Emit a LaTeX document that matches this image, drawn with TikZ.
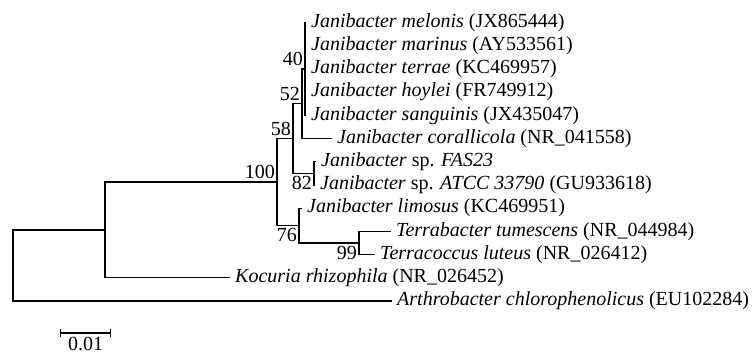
\documentclass[tikz,border=0pt]{standalone}
\usepackage{fontspec}
\setmainfont{Liberation Serif}
\usetikzlibrary{arrows.meta, positioning}

\begin{document}
\begin{tikzpicture}[x=1pt,y=-1pt,
    every node/.style={font=\fontsize{20}{24}\selectfont},
    leaf/.style={anchor=west,inner xsep=5pt,inner ysep=0pt},
    boot/.style={inner xsep=2pt,inner ysep=3pt},
    branch/.style={draw,line width=1.2pt}]
  \useasboundingbox (0,0) rectangle (755,354);

  % leaves
  \node[leaf] (melonis) at (306,22.5) {\textit{Janibacter melonis} (JX865444)};
  \node[leaf] (marinus) at (306,45.7) {\textit{Janibacter marinus} (AY533561)};
  \node[leaf] (terrae) at (306,68.9) {\textit{Janibacter terrae} (KC469957)};
  \node[leaf] (hoylei) at (306,92.1) {\textit{Janibacter hoylei} (FR749912)};
  \node[leaf] (sanguinis) at (306,115.3) {\textit{Janibacter sanguinis} (JX435047)};
  \node[leaf] (corallicola) at (332,138.5) {\textit{Janibacter corallicola} (NR\_041558)};
  \node[leaf] (fas) at (316,161.7) {\textit{Janibacter} sp. \textit{FAS23}};
  \node[leaf] (atcc) at (315,184.9) {\textit{Janibacter} sp. \textit{ATCC 33790} (GU933618)};
  \node[leaf] (limosus) at (302,208.1) {\textit{Janibacter limosus} (KC469951)};
  \node[leaf] (tumescens) at (391,231.3) {\textit{Terrabacter tumescens} (NR\_044984)};
  \node[leaf] (luteus) at (375,254.5) {\textit{Terracoccus luteus} (NR\_026412)};
  \node[leaf] (kocuria) at (230,277.7) {\textit{Kocuria rhizophila} (NR\_026452)};
  \node[leaf] (arthro) at (392,300.9) {\textit{Arthrobacter chlorophenolicus} (EU102284)};

  % inner nodes
  \coordinate (n40) at (305,68.9);
  \coordinate (n52) at (302,103.7);
  \coordinate (n82) at (314,173.3);
  \coordinate (n58) at (293,138.5);
  \coordinate (n99) at (359,242.9);
  \coordinate (n76) at (299,225.5);
  \coordinate (n100) at (277,182);
  \coordinate (nK) at (105,229.9);
  \coordinate (Root) at (13,265.4);

  \foreach \leafname in {melonis,marinus,terrae,hoylei,sanguinis}
    \draw[branch] (n40) |- (\leafname.west);
  \draw[branch] (n52) |- (n40);
  \draw[branch] (n52) |- (corallicola.west);
  \draw[branch] (n82) |- (fas.west);
  \draw[branch] (n82) |- (atcc.west);
  \draw[branch] (n58) |- (n52);
  \draw[branch] (n58) |- (n82);
  \draw[branch] (n99) |- (tumescens.west);
  \draw[branch] (n99) |- (luteus.west);
  \draw[branch] (n76) |- (limosus.west);
  \draw[branch] (n76) |- (n99);
  \draw[branch] (n100) |- (n58);
  \draw[branch] (n100) |- (n76);
  \draw[branch] (nK) |- (n100);
  \draw[branch] (nK) |- (kocuria.west);
  \draw[branch] (Root) |- (nK);
  \draw[branch] (Root) |- (arthro.west);

  % bootstrap values
  \node[boot,above left] (b40) at (n40) {40};
  \node[boot,above left] (b52) at (n52) {52};
  \node[boot,above left] (b58) at (n58) {58};
  \node[boot,above left] (b100) at (n100) {100};
  \node[boot,below left] (b82) at (n82) {82};
  \node[boot,below left] (b76) at (n76) {76};
  \node[boot,below left] (b99) at (n99) {99};

  % scale bar
  \coordinate (sbl) at (60,333);
  \coordinate (sbr) at (111,333);
  \draw[branch,{Bar[width=8pt]}-{Bar[width=8pt]}] (sbl) -- node[below=4pt,inner sep=0pt] (sblabel) {0.01} (sbr);
\end{tikzpicture}
\end{document}
